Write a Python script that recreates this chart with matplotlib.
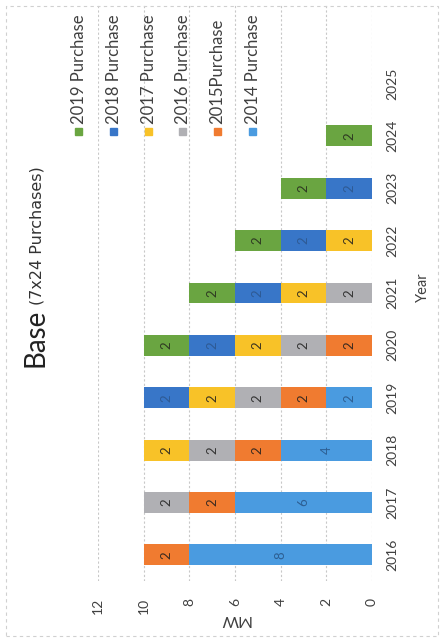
import matplotlib
matplotlib.use("Agg")
import matplotlib.pyplot as plt
from matplotlib.patches import Rectangle
import numpy as np

plt.rcParams['font.family'] = ['Lato', 'DejaVu Sans']

years = ['2016', '2017', '2018', '2019', '2020', '2021', '2022', '2023', '2024', '2025']
series = ['2014 Purchase', '2015Purchase', '2016 Purchase',
          '2017 Purchase', '2018 Purchase', '2019 Purchase']
p2014 = [8, 6, 4, 2, 0, 0, 0, 0, 0, 0]
p2015 = [2, 2, 2, 2, 2, 0, 0, 0, 0, 0]
p2016 = [0, 2, 2, 2, 2, 2, 0, 0, 0, 0]
p2017 = [0, 0, 2, 2, 2, 2, 2, 0, 0, 0]
p2018 = [0, 0, 0, 2, 2, 2, 2, 2, 0, 0]
p2019 = [0, 0, 0, 0, 2, 2, 2, 2, 2, 0]
mw_ticks = [0, 2, 4, 6, 8, 10, 12]

values = [p2014, p2015, p2016, p2017, p2018, p2019]
colors = ['#4a9be0', '#f07b30', '#b0b0b4', '#f8c228', '#3876c8', '#6aa541']
label_colors = ['#2d5f93', '#3a2a20', '#333333', '#3a3320', '#2e5a94', '#2e3a22']

W, H = 443, 643
fig = plt.figure(figsize=(W/100, H/100), dpi=100)
ax = fig.add_axes([98/W, 1 - 581/H, (372 - 98)/W, (581 - 5)/H])

# chart is laid out sideways: years run bottom to top, MW runs right to left
pos = np.arange(len(years))
left = np.zeros(len(years))
for name, vals, c, lc in zip(series, values, colors, label_colors):
    vals = np.array(vals, dtype=float)
    bars = ax.barh(pos, vals, left=left, height=0.4, color=c, zorder=3)
    for b, v in zip(bars, vals):
        if v > 0:
            ax.text(b.get_x() + b.get_width() / 2, b.get_y() + b.get_height() / 2,
                    '%g' % v, rotation=90, ha='center', va='center',
                    fontsize=9.5, color=lc, zorder=4)
    left += vals

ax.set_xlim(12, 0)
ax.set_ylim(-0.5, 10.5)
ax.set_xticks(mw_ticks)
ax.set_xticklabels([str(t) for t in mw_ticks], rotation=90, va='top',
                   fontsize=10, color='#404040')
ax.set_yticks(pos)
ax.set_yticklabels(years, rotation=90, fontsize=10, color='#404040')
ax.yaxis.tick_right()
ax.tick_params(axis='x', length=0, pad=12)
ax.tick_params(axis='y', length=0, pad=10)
for lab in ax.get_yticklabels():
    lab.set_ha('left')
    lab.set_va('center')
for s in ax.spines.values():
    s.set_visible(False)
ax.grid(axis='x', color='#c8c8c8', linestyle=(0, (2, 2)), linewidth=0.8, zorder=0)

fig.text(235/W, 1 - 619/H, 'MW', rotation=180, ha='center', va='center',
         fontsize=11.5, color='#404040')
fig.text(423/W, 1 - 287/H, 'Year', rotation=90, ha='center', va='center',
         fontsize=10.5, color='#404040')

# title reads bottom to top along the left edge
fig.text(43/W, 1 - 367/H, 'Base', rotation=90, rotation_mode='anchor',
         ha='left', va='baseline', fontsize=20, color='#222222')
fig.text(42/W, 1 - 305/H, '(7x24 Purchases)', rotation=90, rotation_mode='anchor',
         ha='left', va='baseline', fontsize=11.5, family='DejaVu Sans',
         color='#333333')

# legend, newest purchase first
leg_x = [78, 113, 148, 182, 217, 252]
for x, name, c in zip(leg_x, series[::-1], colors[::-1]):
    fig.patches.append(Rectangle(((x - 3.5)/W, 1 - 135/H), 7/W, 7/H,
                                 transform=fig.transFigure, color=c))
    fig.text((x + 0.5)/W, 1 - 124/H, name, rotation=90, rotation_mode='anchor',
             ha='left', va='center', fontsize=12, color='#404040')

fig.patches.append(Rectangle((6/W, 1 - 636/H), 432/W, 630/H,
                             transform=fig.transFigure, fill=False,
                             edgecolor='#d0d0d0', linestyle=(0, (3, 3)),
                             linewidth=0.8))

fig.savefig('out.png', dpi=100)
